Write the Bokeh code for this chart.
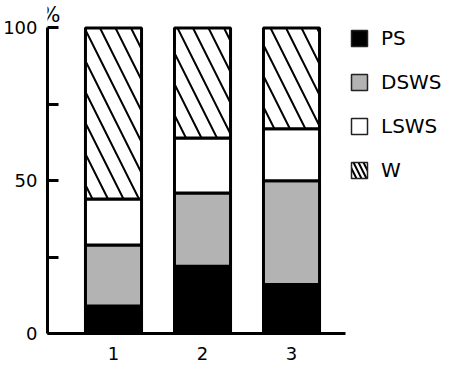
from bokeh.plotting import figure
from bokeh.models import Range1d, FixedTicker, Legend, LegendItem, Label, ColumnDataSource
from bokeh.embed import file_html
from bokeh.resources import INLINE

# ---- data ----
groups = ["1", "2", "3"]
ps = [9, 22, 16]
dsws = [20, 24, 34]
lsws = [15, 18, 17]
w = [56, 36, 33]
series = ["PS", "DSWS", "LSWS", "W"]
y_ticks = [0, 50, 100]
y_minor = [25, 75]

xs = list(range(1, len(groups) + 1))
src = ColumnDataSource(dict(x=xs, PS=ps, DSWS=dsws, LSWS=lsws, W=w))

FONT = "DejaVu Sans"
fills = ["black", "#b3b3b3", "white", "white"]
hatches = [" ", " ", " ", "\\"]

x_start, x_end, x_axis_end = 0.2584, 4.719, 3.607

p = figure(width=444, height=362, output_backend="svg", toolbar_location=None,
           x_range=Range1d(x_start, x_end), y_range=Range1d(0, 109),
           min_border_left=47, min_border_right=0, min_border_top=0, min_border_bottom=29)
p.outline_line_color = None
p.grid.visible = False
p.background_fill_color = "white"

p.vbar_stack(series, x="x", width=0.63, source=src,
             fill_color=fills, line_color="black", line_width=3,
             hatch_pattern=hatches, hatch_color="black", hatch_scale=31, hatch_weight=2)

# legend proxy renderers (zero height, hidden under the axis line)
legend_items = []
for name, fc, hp in zip(series, fills, hatches):
    r = p.vbar(x="x", top=0, bottom=0, width=0.63, source=src,
               fill_color=fc, line_color="#222222", line_width=1.5,
               hatch_pattern=hp, hatch_color="black", hatch_scale=10, hatch_weight=2)
    legend_items.append(LegendItem(label=name, renderers=[r]))

legend = Legend(items=legend_items, location=(302, 151), orientation="vertical",
                border_line_color=None, background_fill_alpha=0, padding=0, margin=0,
                glyph_width=20, glyph_height=20, label_height=20, spacing=20,
                label_standoff=12, label_text_font=FONT, label_text_font_size="20px",
                label_text_color="black")
p.add_layout(legend, "center")

# y axis
ya = p.yaxis[0]
ya.ticker = FixedTicker(ticks=y_ticks, minor_ticks=y_minor)
ya.bounds = (0, 100)
ya.axis_line_width = 3
ya.axis_line_color = "black"
ya.major_tick_line_width = 3
ya.minor_tick_line_width = 3
ya.major_tick_in = 11
ya.major_tick_out = 0
ya.minor_tick_in = 11
ya.minor_tick_out = 0
ya.major_label_standoff = 10
ya.major_label_text_font = FONT
ya.major_label_text_font_size = "18px"
ya.major_label_text_color = "black"

# x axis
xa = p.xaxis[0]
xa.ticker = FixedTicker(ticks=xs)
xa.major_label_overrides = {x: g for x, g in zip(xs, groups)}
xa.bounds = (x_start, x_axis_end)
xa.axis_line_width = 3
xa.axis_line_color = "black"
xa.major_tick_line_color = None
xa.minor_tick_line_color = None
xa.major_label_standoff = 7
xa.major_label_text_font = FONT
xa.major_label_text_font_size = "18px"
xa.major_label_text_color = "black"

p.add_layout(Label(x=x_start, y=100, text="%", x_offset=3, y_offset=13,
                   text_align="center", text_baseline="alphabetic",
                   text_font=FONT, text_font_size="21px", text_color="black"))

open("out.html", "w").write(file_html(p, INLINE))
